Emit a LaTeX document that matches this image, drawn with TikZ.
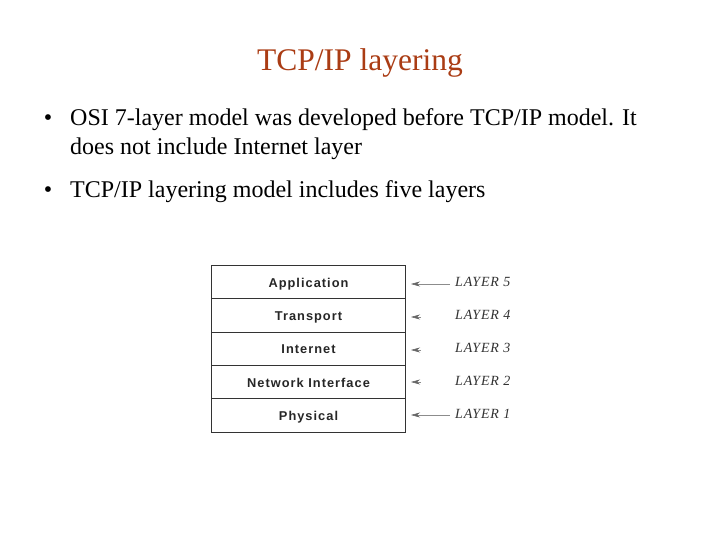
\documentclass[tikz,border=0pt]{standalone}
\usepackage{fontspec}
\setmainfont{Liberation Serif}
\newfontfamily\boxfont[LetterSpace=8]{Liberation Sans}
\newfontfamily\lblfont[LetterSpace=6]{Liberation Serif}
\usetikzlibrary{arrows.meta}
\definecolor{titlered}{RGB}{170,60,20}
\definecolor{lblgray}{RGB}{50,50,50}
\tikzset{
  layerbox/.style={draw=black!80, line width=0.8pt, minimum width=194pt, minimum height=33.4pt, inner sep=0pt, text depth=0pt, font=\boxfont\bfseries\fontsize{12.8}{14}\selectfont, text=black!85},
  layerlbl/.style={anchor=base west, inner sep=0pt, font=\lblfont\itshape\fontsize{14}{16}\selectfont, text=lblgray},
  ptr/.style={draw=black!45, line width=0.5pt, -{Stealth[length=9pt,width=5pt,color=black!60,fill=black!60]}},
  bullettxt/.style={anchor=base west, inner sep=0pt, font=\fontsize{24}{29}\selectfont},
  bulletdot/.style={anchor=base, inner sep=0pt, font=\fontsize{24}{24}\selectfont}
}
\begin{document}
\begin{tikzpicture}[x=1pt,y=-1pt]
\useasboundingbox (0,0) rectangle (720,540);
\node[anchor=base, inner sep=0pt, text=titlered, font=\fontsize{31.5}{36}\selectfont] (title) at (360,71) {TCP/IP layering};
\node[bulletdot] (b1) at (48,126) {\textbullet};
\node[bullettxt] (t1a) at (70,126) {OSI 7-layer model was developed before TCP/IP model. It};
\node[bullettxt] (t1b) at (70,155) {does not include Internet layer};
\node[bulletdot] (b2) at (48,198) {\textbullet};
\node[bullettxt] (t2) at (70,198) {TCP/IP layering model includes five layers};

\node[layerbox] (app) at (308.5,281.8) {\raisebox{-1.5pt}{Application}};
\node[layerbox] (trn) at (308.5,315.2) {\raisebox{-1.5pt}{Transport}};
\node[layerbox] (inet) at (308.5,348.6) {\raisebox{-1.5pt}{Internet}};
\node[layerbox] (net) at (308.5,382) {\raisebox{-1.5pt}{Network Interface}};
\node[layerbox] (phy) at (308.5,415.4) {\raisebox{-1.5pt}{Physical}};

\node[layerlbl] (l5) at (455,286) {LAYER 5};
\node[layerlbl] (l4) at (455,319) {LAYER 4};
\node[layerlbl] (l3) at (455,352) {LAYER 3};
\node[layerlbl] (l2) at (455,385) {LAYER 2};
\node[layerlbl] (l1) at (455,418) {LAYER 1};

\coordinate (e5) at (450,284);
\coordinate (e4) at (421,317);
\coordinate (e3) at (421,350);
\coordinate (e2) at (421,382);
\coordinate (e1) at (450,415);
\coordinate (h5) at (411,284);
\coordinate (h4) at (411,317);
\coordinate (h3) at (411,350);
\coordinate (h2) at (411,382);
\coordinate (h1) at (411,415);
\draw[ptr] (e5) -- (h5);
\draw[ptr] (e4) -- (h4);
\draw[ptr] (e3) -- (h3);
\draw[ptr] (e2) -- (h2);
\draw[ptr] (e1) -- (h1);
\end{tikzpicture}
\end{document}
